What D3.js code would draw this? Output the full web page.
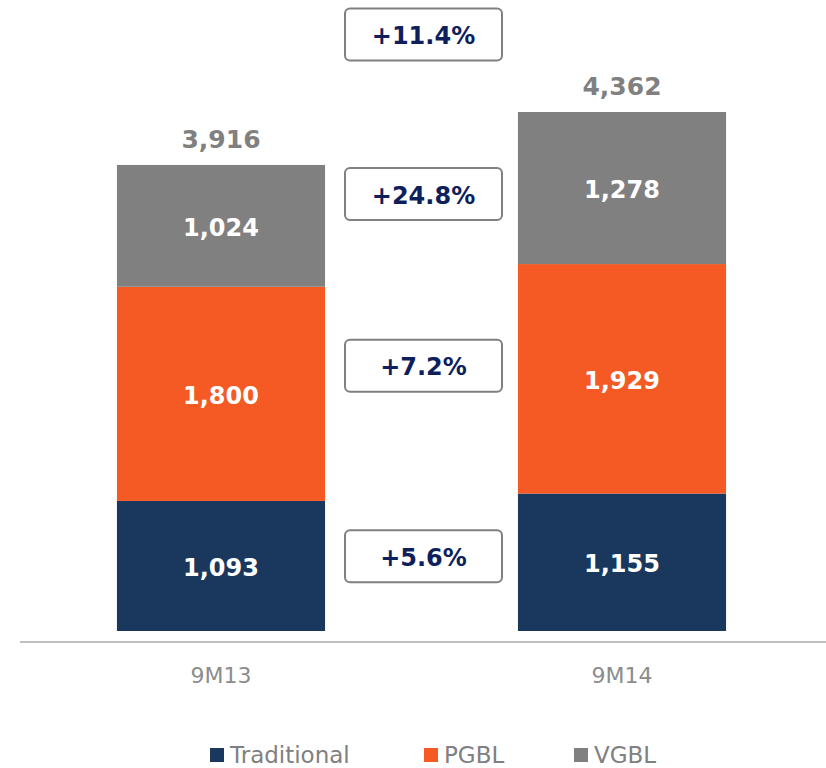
<!DOCTYPE html>
<html>
<head>
<meta charset="utf-8">
<script src="https://cdn.jsdelivr.net/npm/d3@7"></script>
<style>
  html, body { margin: 0; padding: 0; background: #fff; }
  svg { display: block; font-family: "DejaVu Sans", Verdana, sans-serif; }
</style>
</head>
<body>
<svg id="chart" width="826" height="768"></svg>
<script>
// data
const periods = ['9M13', '9M14'];
const seriesNames = ['Traditional', 'PGBL', 'VGBL'];
const traditional = [1093, 1155];
const pgbl = [1800, 1929];
const vgbl = [1024, 1278];
const totals = [3916, 4362];
const growthLabels = ['+5.6%', '+7.2%', '+24.8%'];
const totalGrowth = '+11.4%';

const colors = ['#1a375e', '#f55a24', '#808080'];
const growthNudge = [-6, -13, 6]; // small manual shifts of the growth boxes

const svg = d3.select('#chart');
const width = +svg.attr('width');

const rows = periods.map(function (p, i) {
  return { period: p, Traditional: traditional[i], PGBL: pgbl[i], VGBL: vgbl[i], total: totals[i] };
});

const stack = d3.stack().keys(seriesNames);
const layers = stack(rows);

const x = d3.scaleBand()
  .domain(periods)
  .range([20.5, 822.5])
  .paddingInner(0.481)
  .paddingOuter(0.2405);

const y = d3.scaleLinear()
  .domain([0, d3.max(totals)])
  .range([631, 112]);

const color = d3.scaleOrdinal().domain(seriesNames).range(colors);

// bars
const layer = svg.selectAll('g.layer')
  .data(layers)
  .enter()
  .append('g')
  .attr('class', 'layer')
  .attr('fill', (d) => color(d.key));

layer.selectAll('rect')
  .data((d) => d)
  .enter()
  .append('rect')
  .attr('x', (d) => x(d.data.period))
  .attr('y', (d) => y(d[1]))
  .attr('width', x.bandwidth())
  .attr('height', (d) => y(d[0]) - y(d[1]));

// values inside segments
layer.selectAll('text')
  .data((d) => d)
  .enter()
  .append('text')
  .attr('x', (d) => x(d.data.period) + x.bandwidth() / 2)
  .attr('y', (d) => (y(d[0]) + y(d[1])) / 2 + 10)
  .attr('text-anchor', 'middle')
  .attr('fill', '#fff')
  .attr('font-weight', 'bold')
  .attr('font-size', 24)
  .text((d) => d3.format(',')(d[1] - d[0]));

// totals on top
svg.selectAll('text.total')
  .data(rows)
  .enter()
  .append('text')
  .attr('class', 'total')
  .attr('x', (d) => x(d.period) + x.bandwidth() / 2)
  .attr('y', (d) => y(d.total) - 17)
  .attr('text-anchor', 'middle')
  .attr('fill', '#808080')
  .attr('font-weight', 'bold')
  .attr('font-size', 25)
  .text((d) => d3.format(',')(d.total));

// baseline
svg.append('line')
  .attr('x1', 20)
  .attr('x2', width)
  .attr('y1', 642)
  .attr('y2', 642)
  .attr('stroke', '#bfbfbf')
  .attr('stroke-width', 2);

// category labels
svg.selectAll('text.cat')
  .data(periods)
  .enter()
  .append('text')
  .attr('class', 'cat')
  .attr('x', (d) => x(d) + x.bandwidth() / 2)
  .attr('y', 683)
  .attr('text-anchor', 'middle')
  .attr('fill', '#8c8c8c')
  .attr('font-size', 22)
  .text((d) => d);

// growth boxes
const boxW = 157, boxH = 52;
const boxX = (x(periods[0]) + x(periods[1]) + x.bandwidth()) / 2 + 2;
const last = layers.map((l) => l[1]);
const boxes = growthLabels.map(function (g, i) {
  return { label: g, cy: (y(last[i][0]) + y(last[i][1])) / 2 + growthNudge[i] };
});
boxes.push({ label: totalGrowth, cy: 34.5 });

const box = svg.selectAll('g.growth')
  .data(boxes)
  .enter()
  .append('g')
  .attr('class', 'growth')
  .attr('transform', (d) => 'translate(' + boxX + ',' + d.cy + ')');

box.append('rect')
  .attr('x', -boxW / 2)
  .attr('y', -boxH / 2)
  .attr('width', boxW)
  .attr('height', boxH)
  .attr('rx', 5)
  .attr('fill', '#fff')
  .attr('stroke', '#808080')
  .attr('stroke-width', 2);

box.append('text')
  .attr('y', 9.5)
  .attr('text-anchor', 'middle')
  .attr('fill', '#0f1f5c')
  .attr('font-weight', 'bold')
  .attr('font-size', 24)
  .text((d) => d.label);

// legend
const legendX = [210, 424, 574];
const legend = svg.selectAll('g.legend')
  .data(seriesNames)
  .enter()
  .append('g')
  .attr('class', 'legend')
  .attr('transform', (d, i) => 'translate(' + legendX[i] + ',748)');

legend.append('rect')
  .attr('width', 14)
  .attr('height', 14)
  .attr('fill', (d) => color(d));

legend.append('text')
  .attr('x', 20)
  .attr('y', 15)
  .attr('fill', '#808080')
  .attr('font-size', 23)
  .text((d) => d);
</script>
</body>
</html>
